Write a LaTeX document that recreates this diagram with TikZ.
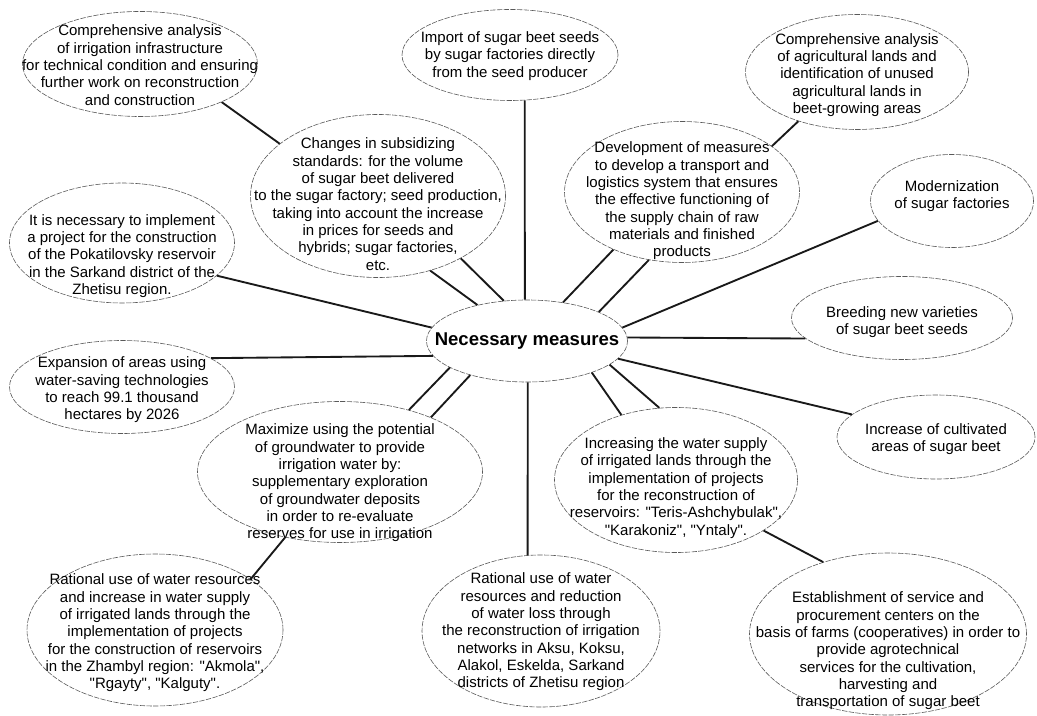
\documentclass[tikz,border=0pt]{standalone}
\usepackage{fontspec}
\setmainfont{Liberation Sans}[Ligatures=TeXOff]
\usetikzlibrary{shapes.geometric}

\tikzset{
  bubble/.style={ellipse, draw=black!65, line width=0.45pt, dash pattern=on 4pt off 1pt, inner sep=0pt},
  txt/.style={align=center, inner sep=0pt, font=\fontsize{11.25}{13}\selectfont},
  link/.style={line width=1.4pt, black!90}
}

\begin{document}
\begin{tikzpicture}[x=0.75pt, y=-0.75pt]
		\newcommand\measure[7]{ %% 1: name, 2-3: centre, 4-5: width and height, 6: text shift down, 7: text
			\node[bubble, minimum width=#4*0.75pt, minimum height=#5*0.75pt] (#1) at (#2,#3) {};
			\node[txt] (#1-t) at ([yshift=-#6*0.75pt]#1.center) {#7};
		}
		
		\useasboundingbox (0,0) rectangle (1037,716);
		
		\node[bubble, minimum width=201*0.75pt, minimum height=82*0.75pt] (ctr) at (527,341) {};
		\node[inner sep=0pt, font=\fontsize{13.9}{16}\selectfont\bfseries] (ctr-t) at (ctr) {Necessary measures};
		
		\measure{infra}{140}{64}{235}{105}{1}{Comprehensive analysis\\of irrigation infrastructure\\for technical condition and ensuring\\further work on reconstruction\\and construction}
		\measure{imp}{510}{55}{216}{91}{1}{Import of sugar beet seeds\\by sugar factories directly\\from the seed producer}
		\measure{agri}{857}{72}{223}{115}{3}{Comprehensive analysis\\of agricultural lands and\\identification of unused\\agricultural lands in\\beet-growing areas}
		\measure{chg}{378}{196}{255}{163}{8}{Changes in subsidizing\\standards: for the volume\\of sugar beet delivered\\to the sugar factory; seed production,\\taking into account the increase\\in prices for seeds and\\hybrids; sugar factories,\\etc.}
		\measure{dev}{682}{192}{235}{141}{9}{Development of measures\\to develop a transport and\\logistics system that ensures\\the effective functioning of\\the supply chain of raw\\materials and finished\\products}
		\measure{mod}{952}{201}{163}{93}{-5}{Modernization\\of sugar factories}
		\measure{pok}{122}{243}{225}{120}{13}{It is necessary to implement\\a project for the construction\\of the Pokatilovsky reservoir\\in the Sarkand district of the\\Zhetisu region.}
		\measure{brd}{902}{318}{221}{83}{4}{Breeding new varieties\\of sugar beet seeds}
		\measure{exp}{122}{387}{225}{93}{3}{Expansion of areas using\\water-saving technologies\\to reach 99.1 thousand\\hectares by 2026}
		\measure{inc}{936}{437}{198}{84}{2}{Increase of cultivated\\areas of sugar beet}
		\measure{max}{340}{472}{285}{141}{11}{Maximize using the potential\\of groundwater to provide\\irrigation water by:\\supplementary exploration\\of groundwater deposits\\in order to re-evaluate\\reserves for use in irrigation}
		\measure{ter}{676}{480}{243}{145}{8}{Increasing the water supply\\of irrigated lands through the\\implementation of projects\\for the reconstruction of\\reservoirs: "Teris-Ashchybulak",\\"Karakoniz", "Yntaly".}
		\measure{zha}{155}{630}{256}{152}{3}{Rational use of water resources\\and increase in water supply\\of irrigated lands through the\\implementation of projects\\for the construction of reservoirs\\in the Zhambyl region: "Akmola",\\"Rgayty", "Kalguty".}
		\measure{aks}{541}{631}{238}{152}{1}{Rational use of water\\resources and reduction\\of water loss through\\the reconstruction of irrigation\\networks in Aksu, Koksu,\\Alakol, Eskelda, Sarkand\\districts of Zhetisu region}
		\measure{est}{888}{634}{277}{162}{17}{Establishment of service and\\procurement centers on the\\basis of farms (cooperatives) in order to\\provide agrotechnical\\services for the cultivation,\\harvesting and\\transportation of sugar beet}
		
		% connectors, border to border
		\foreach \a/\b in {infra.-25/chg.152, chg.-55/ctr.144, chg.-37/ctr.120, imp.-72/ctr.93,
			dev.220/ctr.47, dev.244/ctr.22, agri.220/dev.27, mod.195/ctr.8, brd.192/ctr.2,
			inc.165/ctr.-11, ctr.-26/ter.130, ctr.-16/ter.103, ter.-30/est.132, pok.-19/ctr.172,
			exp.18/ctr.189, max.42/ctr.199, max.31/ctr.211, max.230/zha.28, ctr.-89/aks.100}
			\draw[link] (\a) -- (\b);
	\end{tikzpicture}
\end{document}
